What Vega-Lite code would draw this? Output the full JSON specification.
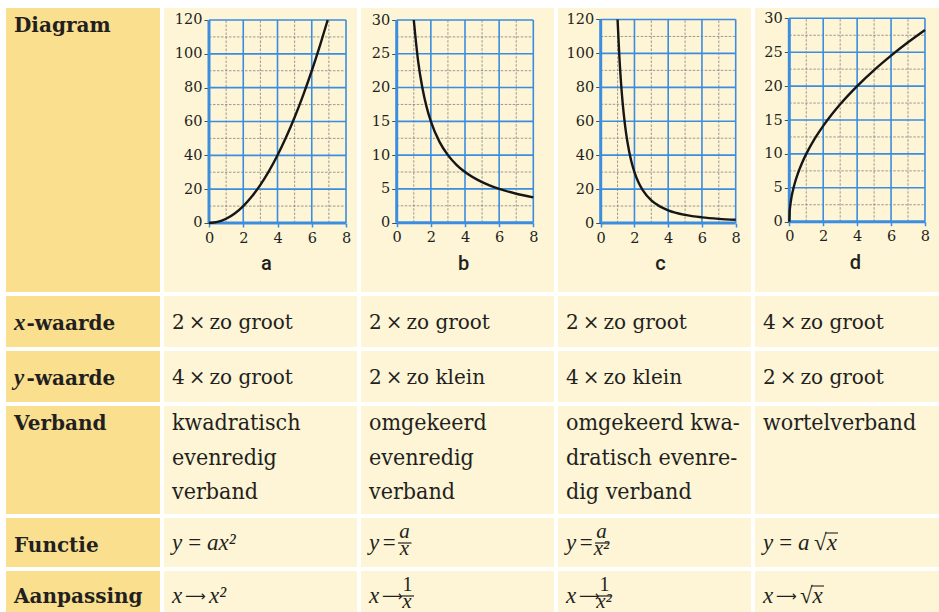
{
  "$schema": "https://vega.github.io/schema/vega-lite/v6.json",
  "background": "#ffffff",
  "padding": {"left": 6, "top": 8, "right": 0, "bottom": 0},
  "spacing": 4,
  "config": {
    "view": {"stroke": null, "fill": "#fdf5d6"},
    "axis": {"domain": false, "grid": false, "labelFont": "DejaVu Serif", "labelFontSize": 14.5, "labelColor": "#231f20", "labelFlush": false, "labelOverlap": false, "titleFont": "Roboto", "titleFontSize": 20, "titleFontWeight": 500, "titleColor": "#231f20"},
    "axisX": {"tickSize": 4, "tickColor": "#3a8ddf", "tickWidth": 1.5, "labelPadding": 4, "titlePadding": 9, "titleX": 102},
    "axisY": {"tickSize": 5, "tickColor": "#4d4d4d", "tickWidth": 1, "labelPadding": 2},
    "text": {"color": "#231f20"}
  },
  "datasets": {
    "grid120": [
      {"k": "minor", "x": 1, "x2": 1, "y": 0, "y2": 120},
      {"k": "minor", "x": 3, "x2": 3, "y": 0, "y2": 120},
      {"k": "minor", "x": 5, "x2": 5, "y": 0, "y2": 120},
      {"k": "minor", "x": 7, "x2": 7, "y": 0, "y2": 120},
      {"k": "minor", "x": 0, "x2": 8, "y": 10, "y2": 10},
      {"k": "minor", "x": 0, "x2": 8, "y": 30, "y2": 30},
      {"k": "minor", "x": 0, "x2": 8, "y": 50, "y2": 50},
      {"k": "minor", "x": 0, "x2": 8, "y": 70, "y2": 70},
      {"k": "minor", "x": 0, "x2": 8, "y": 90, "y2": 90},
      {"k": "minor", "x": 0, "x2": 8, "y": 110, "y2": 110},
      {"k": "major", "x": 2, "x2": 2, "y": 0, "y2": 120},
      {"k": "major", "x": 4, "x2": 4, "y": 0, "y2": 120},
      {"k": "major", "x": 6, "x2": 6, "y": 0, "y2": 120},
      {"k": "major", "x": 8, "x2": 8, "y": 0, "y2": 120},
      {"k": "major", "x": 0, "x2": 8, "y": 20, "y2": 20},
      {"k": "major", "x": 0, "x2": 8, "y": 40, "y2": 40},
      {"k": "major", "x": 0, "x2": 8, "y": 60, "y2": 60},
      {"k": "major", "x": 0, "x2": 8, "y": 80, "y2": 80},
      {"k": "major", "x": 0, "x2": 8, "y": 100, "y2": 100},
      {"k": "major", "x": 0, "x2": 8, "y": 120, "y2": 120},
      {"k": "axis", "x": 0, "x2": 0, "y": 0, "y2": 120},
      {"k": "axis", "x": 0, "x2": 8, "y": 0, "y2": 0}
    ],
    "grid30": [
      {"k": "minor", "x": 1, "x2": 1, "y": 0, "y2": 30},
      {"k": "minor", "x": 3, "x2": 3, "y": 0, "y2": 30},
      {"k": "minor", "x": 5, "x2": 5, "y": 0, "y2": 30},
      {"k": "minor", "x": 7, "x2": 7, "y": 0, "y2": 30},
      {"k": "minor", "x": 0, "x2": 8, "y": 2.5, "y2": 2.5},
      {"k": "minor", "x": 0, "x2": 8, "y": 7.5, "y2": 7.5},
      {"k": "minor", "x": 0, "x2": 8, "y": 12.5, "y2": 12.5},
      {"k": "minor", "x": 0, "x2": 8, "y": 17.5, "y2": 17.5},
      {"k": "minor", "x": 0, "x2": 8, "y": 22.5, "y2": 22.5},
      {"k": "minor", "x": 0, "x2": 8, "y": 27.5, "y2": 27.5},
      {"k": "major", "x": 2, "x2": 2, "y": 0, "y2": 30},
      {"k": "major", "x": 4, "x2": 4, "y": 0, "y2": 30},
      {"k": "major", "x": 6, "x2": 6, "y": 0, "y2": 30},
      {"k": "major", "x": 8, "x2": 8, "y": 0, "y2": 30},
      {"k": "major", "x": 0, "x2": 8, "y": 5, "y2": 5},
      {"k": "major", "x": 0, "x2": 8, "y": 10, "y2": 10},
      {"k": "major", "x": 0, "x2": 8, "y": 15, "y2": 15},
      {"k": "major", "x": 0, "x2": 8, "y": 20, "y2": 20},
      {"k": "major", "x": 0, "x2": 8, "y": 25, "y2": 25},
      {"k": "major", "x": 0, "x2": 8, "y": 30, "y2": 30},
      {"k": "axis", "x": 0, "x2": 0, "y": 0, "y2": 30},
      {"k": "axis", "x": 0, "x2": 8, "y": 0, "y2": 0}
    ],
    "curves": [
      {"g": "a", "x": 0, "y": 0}, {"g": "a", "x": 0.5, "y": 0.625}, {"g": "a", "x": 1, "y": 2.5}, {"g": "a", "x": 1.5, "y": 5.625},
      {"g": "a", "x": 2, "y": 10}, {"g": "a", "x": 2.5, "y": 15.625}, {"g": "a", "x": 3, "y": 22.5}, {"g": "a", "x": 3.5, "y": 30.625},
      {"g": "a", "x": 4, "y": 40}, {"g": "a", "x": 4.5, "y": 50.625}, {"g": "a", "x": 5, "y": 62.5}, {"g": "a", "x": 5.5, "y": 75.625},
      {"g": "a", "x": 6, "y": 90}, {"g": "a", "x": 6.5, "y": 105.625}, {"g": "a", "x": 6.93, "y": 120},
      {"g": "b", "x": 1, "y": 30}, {"g": "b", "x": 1.25, "y": 24}, {"g": "b", "x": 1.5, "y": 20}, {"g": "b", "x": 1.75, "y": 17.14},
      {"g": "b", "x": 2, "y": 15}, {"g": "b", "x": 2.5, "y": 12}, {"g": "b", "x": 3, "y": 10}, {"g": "b", "x": 3.5, "y": 8.57},
      {"g": "b", "x": 4, "y": 7.5}, {"g": "b", "x": 5, "y": 6}, {"g": "b", "x": 6, "y": 5}, {"g": "b", "x": 7, "y": 4.29}, {"g": "b", "x": 8, "y": 3.75},
      {"g": "c", "x": 1, "y": 120}, {"g": "c", "x": 1.1, "y": 99.2}, {"g": "c", "x": 1.2, "y": 83.3}, {"g": "c", "x": 1.3, "y": 71},
      {"g": "c", "x": 1.4, "y": 61.2}, {"g": "c", "x": 1.5, "y": 53.3}, {"g": "c", "x": 1.6, "y": 46.9}, {"g": "c", "x": 1.8, "y": 37},
      {"g": "c", "x": 2, "y": 30}, {"g": "c", "x": 2.25, "y": 23.7}, {"g": "c", "x": 2.5, "y": 19.2}, {"g": "c", "x": 3, "y": 13.3},
      {"g": "c", "x": 3.5, "y": 9.8}, {"g": "c", "x": 4, "y": 7.5}, {"g": "c", "x": 5, "y": 4.8}, {"g": "c", "x": 6, "y": 3.33},
      {"g": "c", "x": 7, "y": 2.45}, {"g": "c", "x": 8, "y": 1.88},
      {"g": "d", "x": 0, "y": 0}, {"g": "d", "x": 0.02, "y": 1.41}, {"g": "d", "x": 0.05, "y": 2.24}, {"g": "d", "x": 0.1, "y": 3.16},
      {"g": "d", "x": 0.2, "y": 4.47}, {"g": "d", "x": 0.35, "y": 5.92}, {"g": "d", "x": 0.5, "y": 7.07}, {"g": "d", "x": 0.75, "y": 8.66},
      {"g": "d", "x": 1, "y": 10}, {"g": "d", "x": 1.5, "y": 12.25}, {"g": "d", "x": 2, "y": 14.14}, {"g": "d", "x": 2.5, "y": 15.81},
      {"g": "d", "x": 3, "y": 17.32}, {"g": "d", "x": 4, "y": 20}, {"g": "d", "x": 5, "y": 22.36}, {"g": "d", "x": 6, "y": 24.49},
      {"g": "d", "x": 7, "y": 26.46}, {"g": "d", "x": 8, "y": 28.28}
    ],
    "xy": [
      {"r": "x-waarde", "c": "a", "t": "2\u2009×\u2009zo groot"},
      {"r": "x-waarde", "c": "b", "t": "2\u2009×\u2009zo groot"},
      {"r": "x-waarde", "c": "c", "t": "2\u2009×\u2009zo groot"},
      {"r": "x-waarde", "c": "d", "t": "4\u2009×\u2009zo groot"},
      {"r": "y-waarde", "c": "a", "t": "4\u2009×\u2009zo groot"},
      {"r": "y-waarde", "c": "b", "t": "2\u2009×\u2009zo klein"},
      {"r": "y-waarde", "c": "c", "t": "4\u2009×\u2009zo klein"},
      {"r": "y-waarde", "c": "d", "t": "2\u2009×\u2009zo groot"}
    ],
    "verband": [
      {"c": "a", "t": "kwadratisch\nevenredig\nverband"},
      {"c": "b", "t": "omgekeerd\nevenredig\nverband"},
      {"c": "c", "t": "omgekeerd kwa-\ndratisch evenre-\ndig verband"},
      {"c": "d", "t": "wortelverband"}
    ],
    "formula": [
      {"r": "Functie", "c": "a", "p": "plain", "t": "y\u2009=\u2009ax²"},
      {"r": "Functie", "c": "b", "p": "plain", "t": "y\u200a="},
      {"r": "Functie", "c": "b", "p": "num", "t": "a"},
      {"r": "Functie", "c": "b", "p": "den", "t": "x"},
      {"r": "Functie", "c": "b", "p": "bar", "t": ""},
      {"r": "Functie", "c": "c", "p": "plain", "t": "y\u200a="},
      {"r": "Functie", "c": "c", "p": "num", "t": "a"},
      {"r": "Functie", "c": "c", "p": "den", "t": "x²"},
      {"r": "Functie", "c": "c", "p": "bar", "t": ""},
      {"r": "Functie", "c": "d", "p": "plain", "t": "y\u2009=\u2009a\u2009√x"},
      {"r": "Functie", "c": "d", "p": "root", "t": ""},
      {"r": "Aanpassing", "c": "a", "p": "plain", "t": "x"},
      {"r": "Aanpassing", "c": "a", "p": "arrow", "t": "⟶"},
      {"r": "Aanpassing", "c": "a", "p": "rhs", "t": "x²"},
      {"r": "Aanpassing", "c": "b", "p": "plain", "t": "x"},
      {"r": "Aanpassing", "c": "b", "p": "arrow", "t": "⟶"},
      {"r": "Aanpassing", "c": "b", "p": "num", "t": "1"},
      {"r": "Aanpassing", "c": "b", "p": "den", "t": "x"},
      {"r": "Aanpassing", "c": "b", "p": "bar", "t": ""},
      {"r": "Aanpassing", "c": "c", "p": "plain", "t": "x"},
      {"r": "Aanpassing", "c": "c", "p": "arrow", "t": "⟶"},
      {"r": "Aanpassing", "c": "c", "p": "num", "t": "1"},
      {"r": "Aanpassing", "c": "c", "p": "den", "t": "x²"},
      {"r": "Aanpassing", "c": "c", "p": "bar", "t": ""},
      {"r": "Aanpassing", "c": "d", "p": "plain", "t": "x"},
      {"r": "Aanpassing", "c": "d", "p": "arrow", "t": "⟶"},
      {"r": "Aanpassing", "c": "d", "p": "rhs", "t": "√x"},
      {"r": "Aanpassing", "c": "d", "p": "root2", "t": ""}
    ]
  },
  "vconcat": [
    {
      "spacing": 4,
      "hconcat": [
        {
          "width": 154, "height": 284, "view": {"fill": "#fadf8e"},
          "data": {"values": [{"t": "Diagram"}]},
          "mark": {"type": "text", "align": "left", "baseline": "alphabetic", "dx": 8, "dy": 24, "font": "DejaVu Serif", "fontWeight": "bold", "fontSize": 20},
          "encoding": {
            "text": {"field": "t"},
            "x": {"datum": 0, "type": "quantitative", "scale": {"domain": [0, 1]}, "axis": null},
            "y": {"datum": 1, "type": "quantitative", "scale": {"domain": [0, 1]}, "axis": null}
          }
        },
        {
          "width": 193, "height": 284,
          "encoding": {
            "x": {"field": "x", "type": "quantitative", "scale": {"domain": [-2.628, 8.642], "nice": false, "zero": false}, "axis": {"offset": -69, "values": [0, 2, 4, 6, 8], "title": "a"}},
            "y": {"field": "y", "type": "quantitative", "scale": {"domain": [-40.79, 127.09], "nice": false, "zero": false}, "axis": {"offset": -45, "values": [0, 20, 40, 60, 80, 100, 120], "title": null}}
          },
          "layer": [
            {"data": {"name": "grid120"}, "transform": [{"filter": "datum.k == 'minor'"}],
             "mark": {"type": "rule", "color": "#6f7278", "strokeWidth": 0.7, "strokeDash": [2.5, 1.5]},
             "encoding": {"x2": {"field": "x2"}, "y2": {"field": "y2"}}},
            {"data": {"name": "grid120"}, "transform": [{"filter": "datum.k == 'major'"}],
             "mark": {"type": "rule", "color": "#3a8ddf", "strokeWidth": 1.6},
             "encoding": {"x2": {"field": "x2"}, "y2": {"field": "y2"}}},
            {"data": {"name": "grid120"}, "transform": [{"filter": "datum.k == 'axis'"}],
             "mark": {"type": "rule", "color": "#3a8ddf", "strokeWidth": 3},
             "encoding": {"x2": {"field": "x2"}, "y2": {"field": "y2"}}},
            {"data": {"name": "curves"}, "transform": [{"filter": "datum.g == 'a'"}],
             "mark": {"type": "line", "interpolate": "monotone", "color": "#161616", "strokeWidth": 2.4},
             "encoding": {}}
          ]
        },
        {
          "width": 193, "height": 284,
          "encoding": {
            "x": {"field": "x", "type": "quantitative", "scale": {"domain": [-2.091, 9.212], "nice": false, "zero": false}, "axis": {"offset": -69.3, "values": [0, 2, 4, 6, 8], "title": "b"}},
            "y": {"field": "y", "type": "quantitative", "scale": {"domain": [-10.256, 31.776], "nice": false, "zero": false}, "axis": {"offset": -35.7, "values": [0, 5, 10, 15, 20, 25, 30], "title": null}}
          },
          "layer": [
            {"data": {"name": "grid30"}, "transform": [{"filter": "datum.k == 'minor'"}],
             "mark": {"type": "rule", "color": "#6f7278", "strokeWidth": 0.7, "strokeDash": [2.5, 1.5]},
             "encoding": {"x2": {"field": "x2"}, "y2": {"field": "y2"}}},
            {"data": {"name": "grid30"}, "transform": [{"filter": "datum.k == 'major'"}],
             "mark": {"type": "rule", "color": "#3a8ddf", "strokeWidth": 1.6},
             "encoding": {"x2": {"field": "x2"}, "y2": {"field": "y2"}}},
            {"data": {"name": "grid30"}, "transform": [{"filter": "datum.k == 'axis'"}],
             "mark": {"type": "rule", "color": "#3a8ddf", "strokeWidth": 3},
             "encoding": {"x2": {"field": "x2"}, "y2": {"field": "y2"}}},
            {"data": {"name": "curves"}, "transform": [{"filter": "datum.g == 'b'"}],
             "mark": {"type": "line", "interpolate": "monotone", "color": "#161616", "strokeWidth": 2.4},
             "encoding": {}}
          ]
        },
        {
          "width": 193, "height": 284,
          "encoding": {
            "x": {"field": "x", "type": "quantitative", "scale": {"domain": [-2.53, 8.907], "nice": false, "zero": false}, "axis": {"offset": -69, "values": [0, 2, 4, 6, 8], "title": "c"}},
            "y": {"field": "y", "type": "quantitative", "scale": {"domain": [-40.68, 126.78], "nice": false, "zero": false}, "axis": {"offset": -42.7, "values": [0, 20, 40, 60, 80, 100, 120], "title": null}}
          },
          "layer": [
            {"data": {"name": "grid120"}, "transform": [{"filter": "datum.k == 'minor'"}],
             "mark": {"type": "rule", "color": "#6f7278", "strokeWidth": 0.7, "strokeDash": [2.5, 1.5]},
             "encoding": {"x2": {"field": "x2"}, "y2": {"field": "y2"}}},
            {"data": {"name": "grid120"}, "transform": [{"filter": "datum.k == 'major'"}],
             "mark": {"type": "rule", "color": "#3a8ddf", "strokeWidth": 1.6},
             "encoding": {"x2": {"field": "x2"}, "y2": {"field": "y2"}}},
            {"data": {"name": "grid120"}, "transform": [{"filter": "datum.k == 'axis'"}],
             "mark": {"type": "rule", "color": "#3a8ddf", "strokeWidth": 3},
             "encoding": {"x2": {"field": "x2"}, "y2": {"field": "y2"}}},
            {"data": {"name": "curves"}, "transform": [{"filter": "datum.g == 'c'"}],
             "mark": {"type": "line", "interpolate": "monotone", "color": "#161616", "strokeWidth": 2.4},
             "encoding": {}}
          ]
        },
        {
          "width": 193, "height": 284,
          "encoding": {
            "x": {"field": "x", "type": "quantitative", "scale": {"domain": [-2.022, 9.357], "nice": false, "zero": false}, "axis": {"offset": -70.3, "values": [0, 2, 4, 6, 8], "title": "d", "titleX": 100}},
            "y": {"field": "y", "type": "quantitative", "scale": {"domain": [-10.37, 31.52], "nice": false, "zero": false}, "axis": {"offset": -34.3, "values": [0, 5, 10, 15, 20, 25, 30], "title": null}}
          },
          "layer": [
            {"data": {"name": "grid30"}, "transform": [{"filter": "datum.k == 'minor'"}],
             "mark": {"type": "rule", "color": "#6f7278", "strokeWidth": 0.7, "strokeDash": [2.5, 1.5]},
             "encoding": {"x2": {"field": "x2"}, "y2": {"field": "y2"}}},
            {"data": {"name": "grid30"}, "transform": [{"filter": "datum.k == 'major'"}],
             "mark": {"type": "rule", "color": "#3a8ddf", "strokeWidth": 1.6},
             "encoding": {"x2": {"field": "x2"}, "y2": {"field": "y2"}}},
            {"data": {"name": "grid30"}, "transform": [{"filter": "datum.k == 'axis'"}],
             "mark": {"type": "rule", "color": "#3a8ddf", "strokeWidth": 3},
             "encoding": {"x2": {"field": "x2"}, "y2": {"field": "y2"}}},
            {"data": {"name": "curves"}, "transform": [{"filter": "datum.g == 'd'"}],
             "mark": {"type": "line", "interpolate": "monotone", "color": "#161616", "strokeWidth": 2.4},
             "encoding": {}}
          ]
        }
      ]
    },
    {
      "spacing": 4,
      "hconcat": [
        {
          "spacing": 4,
          "vconcat": [
            {
              "width": 154, "height": 51, "view": {"fill": "#fadf8e"},
              "data": {"values": [{"v": "x", "t": "-waarde"}]},
              "layer": [
                {"mark": {"type": "text", "align": "left", "baseline": "alphabetic", "dx": 8, "dy": 34, "font": "Liberation Serif", "fontStyle": "italic", "fontWeight": "bold", "fontSize": 23},
                 "encoding": {"text": {"field": "v"}, "x": {"datum": 0, "type": "quantitative", "scale": {"domain": [0, 1]}, "axis": null}, "y": {"datum": 1, "type": "quantitative", "scale": {"domain": [0, 1]}, "axis": null}}},
                {"mark": {"type": "text", "align": "left", "baseline": "alphabetic", "dx": 20.5, "dy": 34, "font": "DejaVu Serif", "fontWeight": "bold", "fontSize": 20},
                 "encoding": {"text": {"field": "t"}, "x": {"datum": 0, "type": "quantitative", "scale": {"domain": [0, 1]}, "axis": null}, "y": {"datum": 1, "type": "quantitative", "scale": {"domain": [0, 1]}, "axis": null}}}
              ]
            },
            {
              "width": 154, "height": 51, "view": {"fill": "#fadf8e"},
              "data": {"values": [{"v": "y", "t": "-waarde"}]},
              "layer": [
                {"mark": {"type": "text", "align": "left", "baseline": "alphabetic", "dx": 8, "dy": 34, "font": "Liberation Serif", "fontStyle": "italic", "fontWeight": "bold", "fontSize": 23},
                 "encoding": {"text": {"field": "v"}, "x": {"datum": 0, "type": "quantitative", "scale": {"domain": [0, 1]}, "axis": null}, "y": {"datum": 1, "type": "quantitative", "scale": {"domain": [0, 1]}, "axis": null}}},
                {"mark": {"type": "text", "align": "left", "baseline": "alphabetic", "dx": 20.5, "dy": 34, "font": "DejaVu Serif", "fontWeight": "bold", "fontSize": 20},
                 "encoding": {"text": {"field": "t"}, "x": {"datum": 0, "type": "quantitative", "scale": {"domain": [0, 1]}, "axis": null}, "y": {"datum": 1, "type": "quantitative", "scale": {"domain": [0, 1]}, "axis": null}}}
              ]
            }
          ]
        },
        {
          "data": {"name": "xy"},
          "facet": {"row": {"field": "r", "header": null, "sort": ["x-waarde", "y-waarde"]}, "column": {"field": "c", "header": null}},
          "spacing": {"row": 4, "column": 4},
          "spec": {
            "width": 193, "height": 51,
            "mark": {"type": "text", "align": "left", "baseline": "alphabetic", "dx": 8, "dy": 33, "font": "DejaVu Serif", "fontSize": 20},
            "encoding": {
              "text": {"field": "t"},
              "x": {"datum": 0, "type": "quantitative", "scale": {"domain": [0, 1]}, "axis": null},
              "y": {"datum": 1, "type": "quantitative", "scale": {"domain": [0, 1]}, "axis": null}
            }
          }
        }
      ]
    },
    {
      "spacing": 4,
      "hconcat": [
        {
          "width": 154, "height": 108, "view": {"fill": "#fadf8e"},
          "data": {"values": [{"t": "Verband"}]},
          "mark": {"type": "text", "align": "left", "baseline": "alphabetic", "dx": 8, "dy": 24, "font": "DejaVu Serif", "fontWeight": "bold", "fontSize": 20},
          "encoding": {
            "text": {"field": "t"},
            "x": {"datum": 0, "type": "quantitative", "scale": {"domain": [0, 1]}, "axis": null},
            "y": {"datum": 1, "type": "quantitative", "scale": {"domain": [0, 1]}, "axis": null}
          }
        },
        {
          "data": {"name": "verband"},
          "facet": {"column": {"field": "c", "header": null}},
          "spacing": {"column": 4},
          "spec": {
            "width": 193, "height": 108,
            "mark": {"type": "text", "align": "left", "baseline": "alphabetic", "dx": 8, "dy": 24, "lineBreak": "\n", "lineHeight": 34.5, "font": "DejaVu Serif Condensed, Liberation Serif", "fontSize": 23},
            "encoding": {
              "text": {"field": "t"},
              "x": {"datum": 0, "type": "quantitative", "scale": {"domain": [0, 1]}, "axis": null},
              "y": {"datum": 1, "type": "quantitative", "scale": {"domain": [0, 1]}, "axis": null}
            }
          }
        }
      ]
    },
    {
      "spacing": 4,
      "hconcat": [
        {
          "spacing": 4,
          "vconcat": [
            {
              "width": 154, "height": 49, "view": {"fill": "#fadf8e"},
              "data": {"values": [{"t": "Functie"}]},
              "mark": {"type": "text", "align": "left", "baseline": "alphabetic", "dx": 8, "dy": 34, "font": "DejaVu Serif", "fontWeight": "bold", "fontSize": 20},
              "encoding": {
                "text": {"field": "t"},
                "x": {"datum": 0, "type": "quantitative", "scale": {"domain": [0, 1]}, "axis": null},
                "y": {"datum": 1, "type": "quantitative", "scale": {"domain": [0, 1]}, "axis": null}
              }
            },
            {
              "width": 154, "height": 49, "view": {"fill": "#fadf8e"},
              "data": {"values": [{"t": "Aanpassing"}]},
              "mark": {"type": "text", "align": "left", "baseline": "alphabetic", "dx": 8, "dy": 32, "font": "DejaVu Serif", "fontWeight": "bold", "fontSize": 20},
              "encoding": {
                "text": {"field": "t"},
                "x": {"datum": 0, "type": "quantitative", "scale": {"domain": [0, 1]}, "axis": null},
                "y": {"datum": 1, "type": "quantitative", "scale": {"domain": [0, 1]}, "axis": null}
              }
            }
          ]
        },
        {
          "data": {"name": "formula"},
          "facet": {"row": {"field": "r", "header": null, "sort": ["Functie", "Aanpassing"]}, "column": {"field": "c", "header": null}},
          "spacing": {"row": 4, "column": 4},
          "spec": {
            "width": 193, "height": 49,
            "layer": [
              {"transform": [{"filter": "datum.p == 'plain'"}],
               "mark": {"type": "text", "align": "left", "baseline": "alphabetic", "dx": 8, "dy": 32, "font": "Liberation Serif", "fontStyle": "italic", "fontSize": 23},
               "encoding": {"text": {"field": "t"}, "x": {"datum": 0, "type": "quantitative", "scale": {"domain": [0, 1]}, "axis": null}, "y": {"datum": 1, "type": "quantitative", "scale": {"domain": [0, 1]}, "axis": null}}},
              {"transform": [{"filter": "datum.p == 'arrow'"}],
               "mark": {"type": "text", "align": "left", "baseline": "alphabetic", "dx": 21, "dy": 30, "font": "DejaVu Sans", "fontSize": 14.5},
               "encoding": {"text": {"field": "t"}, "x": {"datum": 0, "type": "quantitative", "scale": {"domain": [0, 1]}, "axis": null}, "y": {"datum": 1, "type": "quantitative", "scale": {"domain": [0, 1]}, "axis": null}}},
              {"transform": [{"filter": "datum.p == 'rhs'"}],
               "mark": {"type": "text", "align": "left", "baseline": "alphabetic", "dx": 45, "dy": 32, "font": "Liberation Serif", "fontStyle": "italic", "fontSize": 23},
               "encoding": {"text": {"field": "t"}, "x": {"datum": 0, "type": "quantitative", "scale": {"domain": [0, 1]}, "axis": null}, "y": {"datum": 1, "type": "quantitative", "scale": {"domain": [0, 1]}, "axis": null}}},
              {"transform": [{"filter": "datum.p == 'num' && datum.r == 'Functie'"}],
               "mark": {"type": "text", "align": "center", "baseline": "alphabetic", "dx": 43.5, "dy": 20, "font": "Liberation Serif", "fontStyle": "italic", "fontSize": 21},
               "encoding": {"text": {"field": "t"}, "x": {"datum": 0, "type": "quantitative", "scale": {"domain": [0, 1]}, "axis": null}, "y": {"datum": 1, "type": "quantitative", "scale": {"domain": [0, 1]}, "axis": null}}},
              {"transform": [{"filter": "datum.p == 'num' && datum.r == 'Aanpassing'"}],
               "mark": {"type": "text", "align": "center", "baseline": "alphabetic", "dx": 46.5, "dy": 20, "font": "Liberation Serif", "fontSize": 20},
               "encoding": {"text": {"field": "t"}, "x": {"datum": 0, "type": "quantitative", "scale": {"domain": [0, 1]}, "axis": null}, "y": {"datum": 1, "type": "quantitative", "scale": {"domain": [0, 1]}, "axis": null}}},
              {"transform": [{"filter": "datum.p == 'den' && datum.r == 'Functie'"}],
               "mark": {"type": "text", "align": "center", "baseline": "alphabetic", "dx": 43.5, "dy": 37, "font": "Liberation Serif", "fontStyle": "italic", "fontSize": 21},
               "encoding": {"text": {"field": "t"}, "x": {"datum": 0, "type": "quantitative", "scale": {"domain": [0, 1]}, "axis": null}, "y": {"datum": 1, "type": "quantitative", "scale": {"domain": [0, 1]}, "axis": null}}},
              {"transform": [{"filter": "datum.p == 'den' && datum.r == 'Aanpassing'"}],
               "mark": {"type": "text", "align": "center", "baseline": "alphabetic", "dx": 46, "dy": 37, "font": "Liberation Serif", "fontStyle": "italic", "fontSize": 21},
               "encoding": {"text": {"field": "t"}, "x": {"datum": 0, "type": "quantitative", "scale": {"domain": [0, 1]}, "axis": null}, "y": {"datum": 1, "type": "quantitative", "scale": {"domain": [0, 1]}, "axis": null}}},
              {"transform": [{"filter": "datum.p == 'bar' && datum.r == 'Functie'"}],
               "mark": {"type": "rule", "color": "#231f20", "strokeWidth": 1.2, "xOffset": 37, "x2Offset": 50.5, "yOffset": 25},
               "encoding": {"x": {"datum": 0, "type": "quantitative", "scale": {"domain": [0, 1]}, "axis": null}, "x2": {"datum": 0}, "y": {"datum": 1, "type": "quantitative", "scale": {"domain": [0, 1]}, "axis": null}}},
              {"transform": [{"filter": "datum.p == 'bar' && datum.r == 'Aanpassing'"}],
               "mark": {"type": "rule", "color": "#231f20", "strokeWidth": 1.2, "xOffset": 40.5, "x2Offset": 53, "yOffset": 25},
               "encoding": {"x": {"datum": 0, "type": "quantitative", "scale": {"domain": [0, 1]}, "axis": null}, "x2": {"datum": 0}, "y": {"datum": 1, "type": "quantitative", "scale": {"domain": [0, 1]}, "axis": null}}},
              {"transform": [{"filter": "datum.p == 'root'"}],
               "mark": {"type": "rule", "color": "#231f20", "strokeWidth": 1.1, "xOffset": 70, "x2Offset": 83, "yOffset": 15},
               "encoding": {"x": {"datum": 0, "type": "quantitative", "scale": {"domain": [0, 1]}, "axis": null}, "x2": {"datum": 0}, "y": {"datum": 1, "type": "quantitative", "scale": {"domain": [0, 1]}, "axis": null}}},
              {"transform": [{"filter": "datum.p == 'root2'"}],
               "mark": {"type": "rule", "color": "#231f20", "strokeWidth": 1.1, "xOffset": 56, "x2Offset": 69, "yOffset": 15},
               "encoding": {"x": {"datum": 0, "type": "quantitative", "scale": {"domain": [0, 1]}, "axis": null}, "x2": {"datum": 0}, "y": {"datum": 1, "type": "quantitative", "scale": {"domain": [0, 1]}, "axis": null}}}
            ]
          }
        }
      ]
    }
  ]
}
